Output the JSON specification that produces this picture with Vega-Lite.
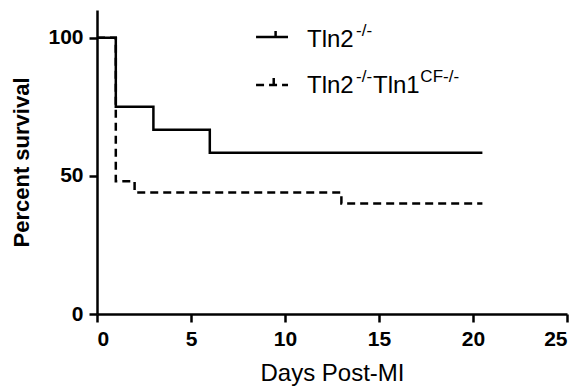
{
  "$schema": "https://vega.github.io/schema/vega-lite/v6.json",
  "width": 470,
  "height": 304,
  "autosize": {"type": "none"},
  "padding": {"left": 97, "top": 10, "right": 15, "bottom": 78},
  "background": "white",
  "config": {
    "view": {"stroke": null},
    "font": "Liberation Sans",
    "axis": {
      "grid": false,
      "domainColor": "black",
      "domainWidth": 2.5,
      "tickColor": "black",
      "tickWidth": 2.5,
      "tickSize": 8,
      "labelColor": "black",
      "labelFont": "Liberation Sans",
      "labelFontWeight": "bold",
      "labelFontSize": 21,
      "titleColor": "black",
      "titleFont": "Liberation Sans"
    }
  },
  "datasets": {
    "curves": [
      {"series": "Tln2-/-", "day": 0, "pct": 100},
      {"series": "Tln2-/-", "day": 1, "pct": 75},
      {"series": "Tln2-/-", "day": 3, "pct": 66.67},
      {"series": "Tln2-/-", "day": 6, "pct": 58.33},
      {"series": "Tln2-/-", "day": 20.5, "pct": 58.33},
      {"series": "Tln2-/-Tln1CF-/-", "day": 0, "pct": 100},
      {"series": "Tln2-/-Tln1CF-/-", "day": 1, "pct": 48},
      {"series": "Tln2-/-Tln1CF-/-", "day": 2, "pct": 44},
      {"series": "Tln2-/-Tln1CF-/-", "day": 13, "pct": 40},
      {"series": "Tln2-/-Tln1CF-/-", "day": 20.5, "pct": 40}
    ],
    "legendLines": [
      {"series": "Tln2-/-", "x": 8.46, "x2": 10.16, "y": 100.2},
      {"series": "Tln2-/-Tln1CF-/-", "x": 8.46, "x2": 10.16, "y": 82.9}
    ],
    "legendTicks": [
      {"series": "Tln2-/-", "x": 9.5, "y": 100.2, "y2": 102.4},
      {"series": "Tln2-/-Tln1CF-/-", "x": 9.4, "y": 82.9, "y2": 85.4}
    ],
    "legendMain": [
      {"x": 11.17, "y": 96.6, "label": "Tln2"},
      {"x": 11.17, "y": 80.0, "label": "Tln2"},
      {"x": 14.68, "y": 80.0, "label": "Tln1"}
    ],
    "legendSup": [
      {"x": 13.78, "y": 100.6, "label": "-/-"},
      {"x": 13.78, "y": 83.9, "label": "-/-"},
      {"x": 17.2, "y": 83.9, "label": "CF-/-"}
    ]
  },
  "layer": [
    {
      "data": {"name": "curves"},
      "mark": {"type": "line", "interpolate": "step-after", "strokeWidth": 2.5, "color": "black"},
      "encoding": {
        "x": {
          "field": "day", "type": "quantitative",
          "scale": {"domain": [0, 25], "nice": false, "zero": false},
          "axis": {"values": [0, 5, 10, 15, 20, 25], "labelPadding": 6, "title": "Days Post-MI", "titleFontSize": 24, "titleFontWeight": "normal", "titlePadding": 12}
        },
        "y": {
          "field": "pct", "type": "quantitative",
          "scale": {"domain": [0, 110], "nice": false},
          "axis": {"values": [0, 50, 100], "title": "Percent survival", "titleFontSize": 22, "titleFontWeight": "bold", "titlePadding": 14, "labelPadding": 6}
        },
        "detail": {"field": "series"},
        "strokeDash": {
          "field": "series", "type": "nominal",
          "scale": {"domain": ["Tln2-/-", "Tln2-/-Tln1CF-/-"], "range": [[1, 0], [8, 5]]},
          "legend": null
        }
      }
    },
    {
      "data": {"name": "legendLines"},
      "mark": {"type": "rule", "strokeWidth": 2.5, "color": "black"},
      "encoding": {
        "x": {"field": "x", "type": "quantitative"},
        "x2": {"field": "x2"},
        "y": {"field": "y", "type": "quantitative"},
        "strokeDash": {
          "field": "series", "type": "nominal",
          "scale": {"domain": ["Tln2-/-", "Tln2-/-Tln1CF-/-"], "range": [[1, 0], [8, 5]]},
          "legend": null
        }
      }
    },
    {
      "data": {"name": "legendTicks"},
      "mark": {"type": "rule", "strokeWidth": 2.5, "color": "black"},
      "encoding": {
        "x": {"field": "x", "type": "quantitative"},
        "y": {"field": "y", "type": "quantitative"},
        "y2": {"field": "y2"}
      }
    },
    {
      "data": {"name": "legendMain"},
      "mark": {"type": "text", "align": "left", "baseline": "alphabetic", "fontSize": 24, "font": "Liberation Sans", "color": "black"},
      "encoding": {
        "x": {"field": "x", "type": "quantitative"},
        "y": {"field": "y", "type": "quantitative"},
        "text": {"field": "label"}
      }
    },
    {
      "data": {"name": "legendSup"},
      "mark": {"type": "text", "align": "left", "baseline": "alphabetic", "fontSize": 17, "font": "Liberation Sans", "color": "black"},
      "encoding": {
        "x": {"field": "x", "type": "quantitative"},
        "y": {"field": "y", "type": "quantitative"},
        "text": {"field": "label"}
      }
    }
  ]
}
